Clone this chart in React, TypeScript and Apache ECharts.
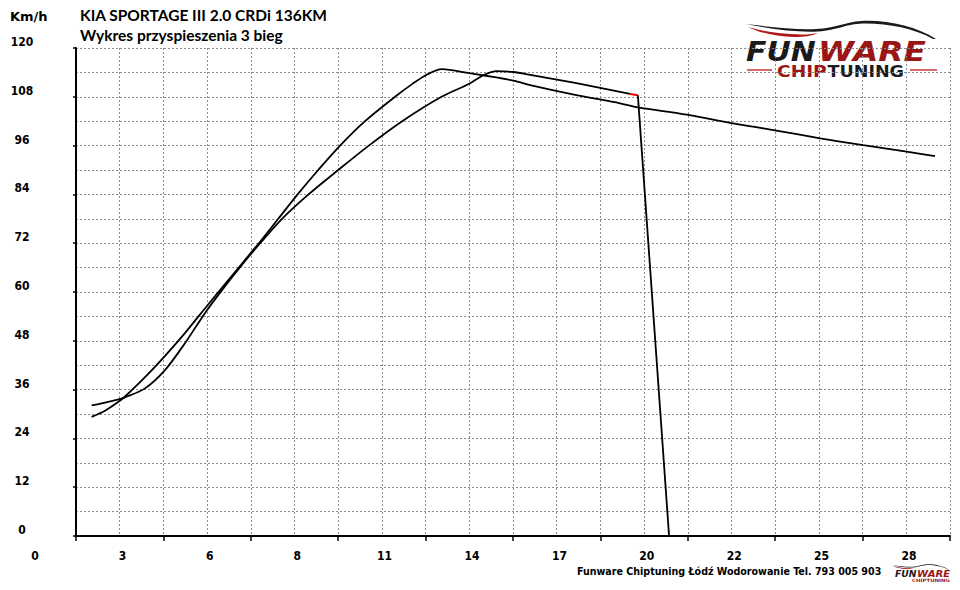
import React, { useEffect, useRef } from "react";
import * as echarts from "echarts";

// ---- data ----
const xTickLabels = ["0", "3", "6", "8", "11", "14", "17", "20", "22", "25", "28"];
const yMax = 120;
const yStep = 12;
const xMax = 28;
const xStep = 2.8;

// Curve A (earlier peak, continues to the end)
const timeA = [0.5, 0.93, 1.36, 1.57, 2.1, 2.64, 3.49, 4.24, 4.78, 5.32, 5.86, 6.48, 7.1, 7.76, 8.46, 9.26, 10.22, 10.8, 11.25, 11.72, 12.6, 14.01, 14.55, 15.99, 17.43, 18.0, 19.57, 20.95, 22.44, 23.84, 25.22, 26.61, 27.52];
const speedA = [29.3, 30.8, 33.0, 34.3, 38.2, 42.5, 49.9, 57.0, 62.0, 67.0, 72, 78, 84, 90, 96, 102, 108, 111.3, 113.5, 114.8, 113.8, 112.0, 110.9, 108.5, 106.4, 105.4, 103.6, 101.6, 99.7, 97.8, 96.1, 94.5, 93.4];

// Curve B (later peak, ends with a drop)
const timeB = [0.5, 0.93, 1.36, 1.57, 2.21, 2.85, 3.49, 4.13, 4.75, 5.36, 5.9, 6.6, 7.45, 8.4, 9.38, 10.45, 11.71, 12.6, 13.05, 13.48, 14.01, 14.55, 15.99, 17.75];
const speedB = [32.1, 32.8, 33.6, 34.1, 36.3, 40.8, 47.4, 54.8, 61.2, 67.1, 72, 78, 84, 90, 96, 102, 108, 111.2, 113.3, 114.3, 114.1, 113.4, 111.4, 108.7];

// Red end marker of curve B and the drop after it
const redTime = [17.75, 18.0];
const redSpeed = [108.7, 108.4];
const dropTime = [18.0, 19.0];
const dropSpeed = [108.4, 0];

const titleLine1 = "KIA SPORTAGE III 2.0 CRDi 136KM";
const titleLine2 = "Wykres przyspieszenia 3 bieg";
const unitLabel = "Km/h";
const footerText = "Funware Chiptuning Łódź Wodorowanie Tel. 793 005 903";

// ---- shapes ----
const CAR_TOP =
  "M0,4 C25,7 50,10 70,9 C90,8 100,2 115,1 C140,-0.5 170,6 190,19 L187,19 C168,8 140,3 117,3.5 C100,4 92,10 72,11.5 C50,12.5 25,9 0,4 Z";
const CAR_RED =
  "M2,7 C15,11 35,14 55,14.5 C62,14.7 68,14 72,13 C66,16 58,17 48,17 C30,16.5 14,13 2,7 Z";
echarts.graphic.registerShape("carTop", echarts.graphic.extendPath(CAR_TOP, {}));
echarts.graphic.registerShape("carRed", echarts.graphic.extendPath(CAR_RED, {}));

const LABEL_FONT = '"DejaVu Sans Condensed", "DejaVu Sans", sans-serif';
const TITLE_FONT = 'Lato, "Open Sans", sans-serif';
const LOGO_FONT = '"DejaVu Sans", sans-serif';
const DARK_RED = "#9a1515";

const pairs = (xs: number[], ys: number[]) => xs.map((x, i) => [x, ys[i]]);

const gridDash = { color: "#8c8c8c", type: [2, 2] as any, width: 1 };

function txt(x: number, y: number, text: string, font: string, fill: string, extra: any = {}) {
  return {
    type: "text",
    x,
    y,
    silent: true,
    ...extra,
    style: {
      text,
      font,
      fill,
      align: "left",
      verticalAlign: "middle",
      textAlign: "left",
      textVerticalAlign: "middle",
    },
  };
}

function logo(x: number, y: number, s: number) {
  return [
    { type: "carTop", x, y, scaleX: s, scaleY: s, silent: true, style: { fill: "#1a1a1a" } },
    { type: "carRed", x, y, scaleX: s, scaleY: s, silent: true, style: { fill: "#b01818" } },
  ];
}

export default function App() {
  const ref = useRef<HTMLDivElement>(null);
  useEffect(() => {
    if (!ref.current) return;
    const chart = echarts.init(ref.current, undefined, { renderer: "svg" });
    const option: any = {
      animation: false,
      backgroundColor: "#ffffff",
      grid: { left: 76, right: 10, top: 48, bottom: 54, containLabel: false },
      xAxis: {
        type: "value",
        min: 0,
        max: xMax,
        interval: xStep,
        axisLine: { show: true, onZero: false, lineStyle: { color: "#000", width: 2 } },
        axisTick: { show: true, length: 5, lineStyle: { color: "#000", width: 1.5 } },
        axisLabel: {
          show: true,
          formatter: (v: number) => xTickLabels[Math.round(v / xStep)] ?? "",
          color: "#000",
          fontFamily: LABEL_FONT,
          fontWeight: "bold",
          fontSize: 12,
          margin: 14,
          padding: [0, 82, 0, 0],
          showMinLabel: true,
          showMaxLabel: true,
        },
        splitLine: { show: true, lineStyle: gridDash },
        minorTick: { show: false, splitNumber: 2 },
        minorSplitLine: { show: true, lineStyle: gridDash },
      },
      yAxis: {
        type: "value",
        min: 0,
        max: yMax,
        interval: yStep,
        axisLine: { show: true, onZero: false, lineStyle: { color: "#000", width: 2 } },
        axisTick: { show: true, length: 3, lineStyle: { color: "#000", width: 1.5 } },
        axisLabel: {
          show: true,
          color: "#000",
          fontFamily: LABEL_FONT,
          fontWeight: "bold",
          fontSize: 12,
          align: "center",
          verticalAlign: "bottom",
          lineHeight: 12,
          margin: 54,
          showMinLabel: true,
          showMaxLabel: true,
        },
        splitLine: { show: true, lineStyle: gridDash },
        minorTick: { show: false, splitNumber: 2 },
        minorSplitLine: { show: true, lineStyle: gridDash },
      },
      series: [
        {
          type: "line",
          data: pairs(timeA, speedA),
          showSymbol: false,
          symbol: "none",
          smooth: 0.3,
          silent: true,
          lineStyle: { color: "#000", width: 1.8 },
          z: 2,
        },
        {
          type: "line",
          data: pairs(timeB, speedB),
          showSymbol: false,
          symbol: "none",
          smooth: 0.3,
          silent: true,
          lineStyle: { color: "#000", width: 1.8 },
          z: 2,
        },
        {
          type: "line",
          data: pairs(dropTime, dropSpeed),
          showSymbol: false,
          symbol: "none",
          silent: true,
          lineStyle: { color: "#000", width: 1.8 },
          z: 2,
        },
        {
          type: "line",
          data: pairs(redTime, redSpeed),
          showSymbol: false,
          symbol: "none",
          silent: true,
          lineStyle: { color: "#ff0000", width: 2 },
          z: 3,
        },
      ],
      graphic: {
        elements: [
          txt(10, 16, unitLabel, `bold 13px ${LOGO_FONT}`, "#000"),
          txt(80, 15, titleLine1, `bold 15.5px ${TITLE_FONT}`, "#000"),
          txt(80, 35, titleLine2, `bold 15.5px ${TITLE_FONT}`, "#000"),
          txt(577, 571, footerText, `bold 10.6px ${LABEL_FONT}`, "#000"),
          // big logo
          ...logo(746, 20, 1),
          txt(746, 52, "FUN", `italic bold 26px ${LOGO_FONT}`, "#1a1a1a", { scaleX: 1.15 }),
          txt(818, 52, "WARE", `italic bold 26px ${LOGO_FONT}`, DARK_RED, { scaleX: 1.26 }),
          txt(777, 71.7, "CHIP", `bold 15px ${LOGO_FONT}`, DARK_RED, { scaleX: 1.24 }),
          txt(827.5, 71.7, "TUNING", `bold 15px ${LOGO_FONT}`, "#1a1a1a", { scaleX: 1.17 }),
          { type: "line", silent: true, shape: { x1: 747, y1: 70, x2: 772, y2: 70 }, style: { stroke: "#c23a3a", lineWidth: 1.5 } },
          { type: "line", silent: true, shape: { x1: 910, y1: 70, x2: 937, y2: 70 }, style: { stroke: "#c23a3a", lineWidth: 1.5 } },
          // small logo
          ...logo(892, 564, 0.3),
          txt(895, 574, "FUN", `italic bold 8px ${LOGO_FONT}`, "#1a1a1a", { scaleX: 1.15 }),
          txt(917, 574, "WARE", `italic bold 8px ${LOGO_FONT}`, DARK_RED, { scaleX: 1.26 }),
          txt(912, 580, "CHIPTUNING", `bold 4.5px ${LOGO_FONT}`, DARK_RED, { scaleX: 1.2 }),
        ],
      },
    };
    chart.setOption(option);
    return () => chart.dispose();
  }, []);
  return (
    <div
      ref={ref}
      style={{ position: "fixed", left: 0, top: 0, width: 960, height: 590, background: "#fff" }}
    />
  );
}
